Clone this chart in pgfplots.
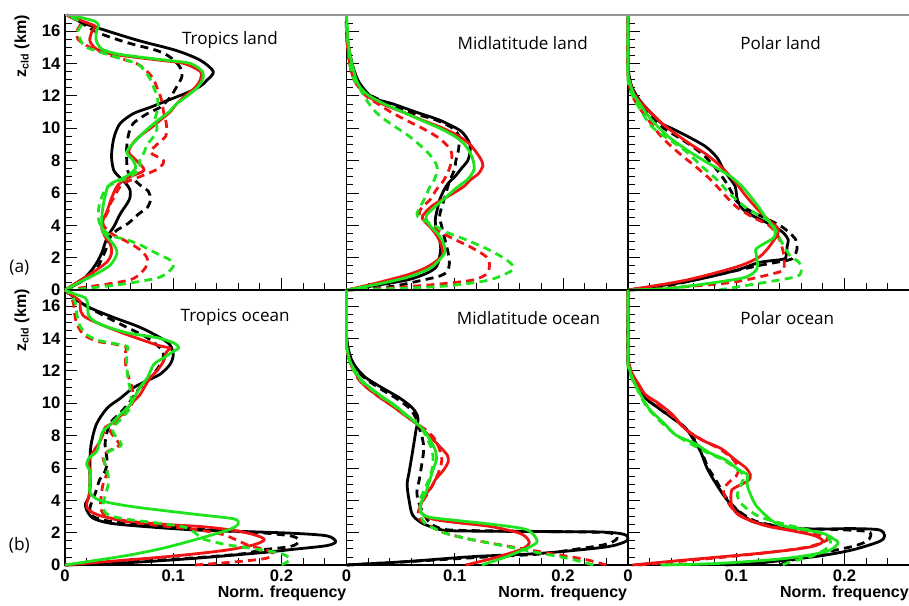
\documentclass[border=0pt]{standalone}
\usepackage{pgfplots}
\pgfplotsset{compat=1.18}
\usepackage{fontspec}
\setmainfont{Open Sans}
\newfontfamily\lsans{Liberation Sans}
\definecolor{cR}{RGB}{240,20,20}
\definecolor{cG}{RGB}{30,228,30}
\definecolor{frameg}{RGB}{150,150,150}
\pgfplotsset{
 panel/.style={scale only axis, width=211.125pt, height=206.25pt,
  xmin=0, xmax=0.26, ymin=0, ymax=17, no markers, clip=false,
  tick pos=left, xtick={0,0.1,0.2}, ytick={0,2,...,16},
  minor xtick={0.02,0.04,0.06,0.08,0.12,0.14,0.16,0.18,0.22,0.24},
  minor ytick={0.5,1,1.5,2.5,3,3.5,4.5,5,5.5,6.5,7,7.5,8.5,9,9.5,10.5,11,11.5,12.5,13,13.5,14.5,15,15.5,16.5},
  major tick length=9pt, minor tick length=5pt,
  every tick/.style={black, line width=0.6pt},
  axis line style={line width=0.8pt},
  /pgf/number format/assume math mode=true,
  tick label style={font=\lsans\bfseries\fontsize{12.5}{13}\selectfont},
  xticklabels={0,0.1,0.2}},
 notx/.style={xticklabels={}},
 noty/.style={yticklabels={}},
 ks/.style={black,line width=2.1pt,smooth,line join=round},
 kd/.style={black,line width=2.1pt,smooth,line join=round,dash pattern=on 6pt off 4pt},
 rs/.style={cR,line width=2.1pt,smooth,line join=round},
 rd/.style={cR,line width=2.1pt,smooth,line join=round,dash pattern=on 6pt off 4pt},
 gs/.style={cG,line width=2.1pt,smooth,line join=round},
 gd/.style={cG,line width=2.1pt,smooth,line join=round,dash pattern=on 6pt off 4pt},
}
\newcommand{\ttl}{\fontsize{12.8}{14}\selectfont}
\begin{document}
\begin{tikzpicture}
\useasboundingbox (0,0) rectangle (681.75pt,454.5pt);
% ---------------- Tropics land
\begin{axis}[panel, notx, at={(48.75pt,237pt)}, anchor=south west]
\addplot[kd] coordinates {(0,0) (0.017,0.6) (0.029,1.3) (0.035,2.1) (0.039,2.7) (0.042,3.3) (0.048,3.7) (0.058,4.1) (0.068,4.7) (0.076,5.1) (0.079,5.6) (0.077,6.1) (0.069,6.5) (0.063,6.9) (0.058,7.35) (0.057,8.0) (0.057,8.85) (0.059,9.7) (0.063,10.3) (0.076,10.9) (0.088,11.3) (0.097,11.9) (0.103,12.55) (0.108,13.2) (0.106,13.8) (0.097,14.4) (0.085,14.8) (0.057,15.3) (0.029,15.95) (0.011,16.7) (0.002,17)};
\addplot[ks] coordinates {(0,0) (0.014,0.5) (0.023,1.1) (0.029,1.65) (0.034,2.3) (0.037,2.9) (0.040,3.4) (0.045,3.9) (0.051,4.7) (0.057,5.3) (0.060,5.7) (0.060,6.2) (0.056,6.6) (0.050,7.0) (0.045,7.4) (0.043,8.2) (0.044,9) (0.046,9.6) (0.051,10.3) (0.063,10.9) (0.079,11.3) (0.094,11.7) (0.113,12.2) (0.125,12.6) (0.131,12.96) (0.137,13.5) (0.125,14.2) (0.103,14.8) (0.069,15.4) (0.042,15.95) (0.017,16.5) (0.002,17)};
\addplot[rd] coordinates {(0,0) (0.011,0.1) (0.042,0.4) (0.063,0.7) (0.074,1.35) (0.076,1.95) (0.069,2.5) (0.057,3.0) (0.045,3.4) (0.039,3.7) (0.035,4.1) (0.037,4.5) (0.040,4.9) (0.042,5.35) (0.046,5.8) (0.049,6.2) (0.054,6.6) (0.069,7.0) (0.086,7.5) (0.091,8.0) (0.079,8.5) (0.085,9) (0.093,9.5) (0.094,10) (0.093,10.5) (0.091,11) (0.090,11.5) (0.088,12) (0.085,12.5) (0.082,13) (0.076,13.5) (0.066,14) (0.042,14.5) (0.023,15) (0.012,15.5) (0.011,16) (0.014,16.5) (0.002,17)};
\addplot[rs] coordinates {(0,0) (0.014,0.6) (0.026,1.1) (0.039,1.75) (0.043,2.3) (0.042,2.8) (0.037,3.3) (0.034,3.8) (0.035,4.3) (0.039,4.9) (0.042,5.5) (0.045,6) (0.049,6.5) (0.060,7) (0.073,7.4) (0.066,8) (0.059,8.5) (0.062,9) (0.069,9.5) (0.079,10) (0.088,10.5) (0.097,11) (0.103,11.5) (0.111,12) (0.120,12.5) (0.125,13) (0.125,13.5) (0.110,14) (0.088,14.2) (0.063,14.4) (0.042,14.6) (0.029,14.9) (0.023,15.4) (0.025,16) (0.028,16.3) (0.017,16.6) (0.002,17)};
\addplot[gd] coordinates {(0,0) (0.020,0.1) (0.057,0.4) (0.088,0.8) (0.100,1.45) (0.097,1.85) (0.085,2.25) (0.069,2.8) (0.057,3.1) (0.045,3.3) (0.039,3.5) (0.032,4.1) (0.031,4.5) (0.031,4.95) (0.032,5.35) (0.034,5.75) (0.037,6.2) (0.042,6.5) (0.060,7) (0.069,7.5) (0.069,8) (0.073,8.5) (0.076,9) (0.082,9.5) (0.085,10) (0.083,10.5) (0.085,11) (0.086,11.5) (0.085,12) (0.082,12.5) (0.079,13) (0.074,13.5) (0.066,14) (0.042,14.5) (0.020,15) (0.014,15.5) (0.012,16) (0.015,16.5) (0.002,17)};
\addplot[gs] coordinates {(0,0) (0.014,0.5) (0.029,1.0) (0.042,1.55) (0.048,2.25) (0.046,2.7) (0.040,3.2) (0.035,3.6) (0.034,4.0) (0.034,4.5) (0.035,5.1) (0.037,5.8) (0.039,6.3) (0.043,6.6) (0.056,7.0) (0.065,7.5) (0.063,8) (0.057,8.5) (0.062,9) (0.069,9.5) (0.077,10) (0.086,10.5) (0.096,11) (0.103,11.5) (0.113,12) (0.122,12.5) (0.127,13) (0.127,13.5) (0.116,14) (0.094,14.2) (0.069,14.4) (0.048,14.6) (0.034,14.9) (0.029,15.4) (0.029,16) (0.031,16.3) (0.028,16.6) (0.011,16.9) (0.002,17)};
\node[anchor=base west, inner sep=0pt, font=\ttl] at (rel axis cs:0.415,0.891) {Tropics land};
\end{axis}
% ---------------- Midlatitude land
\begin{axis}[panel, notx, noty, at={(259.875pt,237pt)}, anchor=south west]
\addplot[kd] coordinates {(0,0) (0.040,0.2) (0.071,0.62) (0.086,0.86) (0.093,1.13) (0.095,1.65) (0.094,2.26) (0.091,3.09) (0.088,3.91) (0.086,4.53) (0.088,5.14) (0.091,5.76) (0.094,6.5) (0.097,7) (0.100,7.5) (0.101,8) (0.103,8.5) (0.104,9) (0.104,9.5) (0.098,10) (0.083,10.5) (0.058,11) (0.040,11.5) (0.023,12) (0.013,12.5) (0.007,13) (0.003,14) (0.001,15) (0,16) (0,17)};
\addplot[ks] coordinates {(0,0) (0.024,0.25) (0.056,0.62) (0.074,1.03) (0.083,1.44) (0.086,2.06) (0.087,2.57) (0.086,3.09) (0.083,3.7) (0.082,4.32) (0.083,4.73) (0.086,5.56) (0.090,6.17) (0.094,6.6) (0.100,7) (0.106,7.5) (0.112,8) (0.114,8.5) (0.114,9) (0.110,9.5) (0.104,9.9) (0.086,10.5) (0.064,11) (0.043,11.5) (0.024,11.9) (0.012,12.8) (0.006,13.8) (0.002,15) (0,16) (0,17)};
\addplot[rd] coordinates {(0,0) (0.019,0.04) (0.055,0.2) (0.086,0.37) (0.117,0.62) (0.130,1.03) (0.132,1.65) (0.129,2.06) (0.117,2.57) (0.098,3.19) (0.083,3.7) (0.075,4.12) (0.070,4.42) (0.067,4.73) (0.070,5.14) (0.077,5.56) (0.083,6.2) (0.090,6.8) (0.095,7.5) (0.097,8) (0.097,8.5) (0.092,9) (0.083,9.5) (0.070,10) (0.055,10.5) (0.041,11) (0.029,11.5) (0.018,12) (0.012,12.5) (0.007,13) (0.003,14) (0.002,15) (0,16) (0,17)};
\addplot[rs] coordinates {(0,0) (0.024,0.37) (0.056,0.93) (0.074,1.4) (0.086,1.95) (0.089,2.26) (0.087,2.88) (0.083,3.4) (0.077,3.91) (0.070,4.42) (0.072,4.73) (0.080,5.25) (0.093,5.76) (0.108,6.38) (0.114,6.79) (0.122,7.2) (0.126,7.7) (0.124,8.1) (0.120,8.5) (0.114,9) (0.104,9.5) (0.089,10) (0.070,10.5) (0.052,11) (0.033,11.5) (0.019,12) (0.012,12.5) (0.007,13) (0.003,14) (0.001,15) (0,16) (0,17)};
\addplot[gd] coordinates {(0,0) (0.020,0.04) (0.071,0.16) (0.101,0.31) (0.132,0.62) (0.151,1.13) (0.154,1.44) (0.148,1.85) (0.132,2.47) (0.111,3.09) (0.095,3.5) (0.083,3.91) (0.071,4.32) (0.066,4.53) (0.065,4.73) (0.068,5.14) (0.073,5.76) (0.077,6.38) (0.081,6.79) (0.084,7.5) (0.081,8) (0.075,8.5) (0.067,9) (0.058,9.5) (0.047,10) (0.036,10.5) (0.027,11) (0.021,11.5) (0.016,12) (0.012,12.5) (0.007,13) (0.003,14) (0.002,15) (0,16) (0,17)};
\addplot[gs] coordinates {(0,0) (0.025,0.31) (0.056,0.78) (0.077,1.34) (0.087,1.95) (0.091,2.37) (0.089,2.98) (0.084,3.5) (0.078,3.91) (0.074,4.32) (0.074,4.63) (0.080,5.04) (0.089,5.56) (0.101,6.28) (0.111,6.79) (0.115,7.1) (0.118,7.5) (0.117,8) (0.114,8.5) (0.109,9) (0.100,9.5) (0.086,10) (0.069,10.5) (0.052,11) (0.035,11.5) (0.021,12) (0.013,12.5) (0.009,13) (0.005,14) (0.002,15) (0.001,16) (0,17)};
\node[anchor=base west, inner sep=0pt, font=\ttl] at (rel axis cs:0.394,0.876) {Midlatitude land};
\end{axis}
% ---------------- Polar land
\begin{axis}[panel, notx, noty, at={(471pt,237pt)}, anchor=south west]
\addplot[kd] coordinates {(0,0) (0.035,0.25) (0.080,0.9) (0.120,1.5) (0.148,1.85) (0.153,2.05) (0.156,2.5) (0.155,3.1) (0.148,3.6) (0.140,4.0) (0.125,4.5) (0.110,5.0) (0.100,5.5) (0.096,6.0) (0.092,6.5) (0.087,7) (0.080,7.6) (0.072,8.2) (0.060,8.85) (0.045,9.5) (0.033,10) (0.025,10.5) (0.016,11.1) (0.008,11.8) (0.003,12.5) (0.001,13.2) (0,14) (0,17)};
\addplot[ks] coordinates {(0,0) (0.053,0.5) (0.099,1.2) (0.121,1.7) (0.143,1.9) (0.146,2.1) (0.147,2.7) (0.148,3.1) (0.144,3.5) (0.136,3.9) (0.127,4.2) (0.115,4.6) (0.106,5.0) (0.101,5.6) (0.099,6.4) (0.093,7) (0.087,7.6) (0.082,8.2) (0.072,8.85) (0.055,9.5) (0.040,10) (0.031,10.3) (0.019,11.1) (0.010,11.8) (0.004,12.5) (0.001,13.2) (0,14) (0,17)};
\addplot[rd] coordinates {(0,0) (0.022,0.05) (0.053,0.2) (0.099,0.5) (0.139,1.1) (0.144,1.35) (0.144,2.1) (0.142,2.7) (0.138,3.4) (0.130,4.0) (0.115,4.5) (0.101,5.1) (0.093,5.6) (0.085,6.2) (0.075,6.9) (0.063,7.6) (0.050,8.3) (0.038,9.0) (0.028,9.7) (0.019,10.5) (0.010,11.3) (0.004,12) (0.001,12.7) (0,13.5) (0,17)};
\addplot[rs] coordinates {(0,0) (0.053,0.6) (0.099,1.4) (0.119,1.95) (0.127,2.4) (0.136,3.2) (0.139,3.7) (0.136,4.0) (0.132,4.2) (0.121,4.9) (0.109,5.8) (0.100,6.6) (0.092,7.2) (0.083,7.8) (0.072,8.4) (0.058,9.0) (0.045,9.6) (0.033,10.2) (0.022,10.9) (0.013,11.5) (0.006,12.1) (0.002,12.8) (0,13.5) (0,17)};
\addplot[gd] coordinates {(0.084,0) (0.120,0.4) (0.155,0.82) (0.160,1.2) (0.158,1.7) (0.150,2.1) (0.145,2.6) (0.140,3.2) (0.133,4.1) (0.124,4.5) (0.109,5.1) (0.093,6.0) (0.084,6.7) (0.069,7.6) (0.053,8.6) (0.038,9.3) (0.022,10.1) (0.010,11.3) (0.003,12.2) (0,13) (0,17)};
\addplot[gs] coordinates {(0,0) (0.038,0.1) (0.084,0.5) (0.109,0.8) (0.119,1.3) (0.119,2.0) (0.118,2.5) (0.124,2.8) (0.134,3.2) (0.136,3.5) (0.134,3.9) (0.127,4.5) (0.121,5.1) (0.113,5.8) (0.104,6.5) (0.095,7) (0.083,7.5) (0.070,8) (0.058,8.5) (0.047,9) (0.037,9.5) (0.029,10) (0.022,10.5) (0.016,11) (0.011,11.5) (0.006,12) (0.003,12.5) (0.001,13) (0,13.5) (0,17)};
\node[anchor=base west, inner sep=0pt, font=\ttl] at (rel axis cs:0.398,0.876) {Polar land};
\end{axis}
% ---------------- Tropics ocean
\begin{axis}[panel, at={(48.75pt,30.75pt)}, anchor=south west]
\addplot[kd] coordinates {(0,0) (0.06,0.2) (0.12,0.45) (0.165,0.7) (0.181,0.93) (0.208,1.14) (0.216,1.45) (0.211,1.76) (0.187,1.96) (0.150,2.1) (0.103,2.31) (0.073,2.48) (0.042,2.69) (0.026,3.0) (0.023,3.5) (0.025,3.93) (0.028,4.44) (0.032,5.27) (0.037,5.8) (0.039,6.4) (0.037,7.44) (0.039,8.26) (0.043,8.88) (0.051,9.4) (0.060,10.1) (0.069,10.95) (0.079,11.57) (0.088,12.4) (0.091,13.0) (0.088,13.4) (0.076,14.05) (0.057,14.7) (0.039,15.3) (0.020,16.0) (0.008,16.5) (0,17)};
\addplot[ks] coordinates {(0,0) (0.057,0.14) (0.119,0.41) (0.181,0.76) (0.211,0.97) (0.242,1.2) (0.250,1.45) (0.242,1.8) (0.211,1.96) (0.165,2.07) (0.119,2.17) (0.073,2.38) (0.042,2.58) (0.026,2.89) (0.020,3.4) (0.019,3.8) (0.022,4.2) (0.023,5) (0.023,6.2) (0.024,7.4) (0.029,8.7) (0.039,9.7) (0.051,10.3) (0.063,10.95) (0.076,11.4) (0.088,11.8) (0.097,12.4) (0.100,13.0) (0.097,13.6) (0.088,14.05) (0.069,14.7) (0.045,15.3) (0.023,15.9) (0.011,16.4) (0,17)};
\addplot[rd] coordinates {(0.12,0) (0.15,0.15) (0.185,0.4) (0.192,0.7) (0.185,0.95) (0.17,1.2) (0.16,1.5) (0.145,1.9) (0.12,2.2) (0.085,2.45) (0.055,2.7) (0.038,3.0) (0.033,3.5) (0.033,4.0) (0.035,4.96) (0.039,5.8) (0.035,6.6) (0.039,7.0) (0.050,7.4) (0.045,7.95) (0.042,8.26) (0.045,8.68) (0.051,9.1) (0.060,9.7) (0.063,10.3) (0.062,10.95) (0.059,11.57) (0.056,12.4) (0.056,13.2) (0.056,13.5) (0.042,13.7) (0.029,13.84) (0.017,14.26) (0.011,14.9) (0.009,15.5) (0.008,16.1) (0.005,16.7) (0,17)};
\addplot[rs] coordinates {(0,0) (0.026,0.14) (0.057,0.31) (0.088,0.48) (0.119,0.68) (0.150,0.93) (0.174,1.24) (0.184,1.55) (0.178,1.8) (0.160,2.1) (0.130,2.35) (0.095,2.5) (0.060,2.7) (0.035,3.0) (0.024,3.3) (0.020,3.6) (0.020,3.8) (0.023,4.55) (0.023,5.8) (0.022,6.2) (0.023,6.6) (0.028,7.2) (0.032,7.6) (0.035,8.06) (0.037,8.5) (0.042,8.7) (0.051,9.2) (0.063,10.1) (0.069,10.5) (0.073,10.95) (0.079,11.6) (0.085,12) (0.091,12.6) (0.094,13.2) (0.097,13.4) (0.085,13.6) (0.057,14.25) (0.032,14.9) (0.017,15.4) (0.014,15.9) (0.014,16.3) (0.008,16.6) (0,17)};
\addplot[gd] coordinates {(0.200,0) (0.208,0.35) (0.200,0.7) (0.180,0.95) (0.150,1.25) (0.128,1.6) (0.120,2.0) (0.110,2.35) (0.085,2.6) (0.055,2.85) (0.040,3.1) (0.035,3.5) (0.036,4.0) (0.038,4.5) (0.040,5.0) (0.040,5.5) (0.038,6.0) (0.036,6.6) (0.040,7.0) (0.052,7.4) (0.047,7.95) (0.044,8.3) (0.047,8.7) (0.053,9.1) (0.060,9.7) (0.061,10.3) (0.060,10.95) (0.058,11.57) (0.057,12.4) (0.057,13.2) (0.058,13.5) (0.045,13.7) (0.030,13.9) (0.019,14.3) (0.013,14.9) (0.011,15.5) (0.010,16.1) (0.006,16.7) (0,17)};
\addplot[gs] coordinates {(0,0) (0.030,0.3) (0.060,0.62) (0.090,1.03) (0.122,1.6) (0.152,2.2) (0.160,2.55) (0.156,2.85) (0.125,3.1) (0.063,3.6) (0.032,4.0) (0.023,4.5) (0.023,4.96) (0.023,5.8) (0.020,6.2) (0.022,6.6) (0.029,7.0) (0.032,7.64) (0.035,8.26) (0.042,8.68) (0.051,9.3) (0.060,9.9) (0.069,10.95) (0.076,11.57) (0.082,12.4) (0.091,12.8) (0.100,13.2) (0.105,13.43) (0.100,13.74) (0.085,14.05) (0.057,14.36) (0.032,14.9) (0.022,15.4) (0.021,16.1) (0.019,16.5) (0.011,16.7) (0,17)};
\node[anchor=base west, inner sep=0pt, font=\ttl] at (rel axis cs:0.41,0.887) {Tropics ocean};
\end{axis}
% ---------------- Midlatitude ocean
\begin{axis}[panel, noty, at={(259.875pt,30.75pt)}, anchor=south west]
\addplot[kd] coordinates {(0,0) (0.055,0.2) (0.117,0.45) (0.179,0.68) (0.209,0.95) (0.234,1.2) (0.245,1.4) (0.250,1.65) (0.247,1.9) (0.235,2.02) (0.17,2.08) (0.10,2.15) (0.085,2.3) (0.077,2.6) (0.072,3.1) (0.067,3.8) (0.065,4.5) (0.067,5.2) (0.069,6.0) (0.071,6.9) (0.071,7.5) (0.069,8.1) (0.066,8.7) (0.064,9.1) (0.058,9.7) (0.046,10.3) (0.030,10.95) (0.016,11.6) (0.008,12.2) (0.003,12.8) (0.001,13.6) (0,14.3) (0,17)};
\addplot[ks] coordinates {(0,0) (0.055,0.21) (0.117,0.52) (0.179,0.72) (0.238,1.1) (0.256,1.4) (0.260,1.65) (0.256,1.9) (0.235,2.04) (0.17,2.07) (0.10,2.11) (0.086,2.2) (0.070,2.58) (0.061,3.1) (0.058,3.93) (0.056,4.96) (0.058,5.8) (0.061,7.0) (0.064,8.26) (0.066,9.09) (0.061,9.7) (0.049,10.33) (0.033,10.95) (0.018,11.57) (0.009,12.2) (0.004,12.8) (0.001,13.6) (0,14.3) (0,17)};
\addplot[rd] coordinates {(0.240,0) (0.220,0.35) (0.185,0.75) (0.150,1.15) (0.117,1.55) (0.095,1.9) (0.086,2.1) (0.075,2.5) (0.068,2.8) (0.066,3.2) (0.068,3.6) (0.071,4.0) (0.077,4.65) (0.082,5.27) (0.086,5.9) (0.088,6.5) (0.086,7.13) (0.082,7.75) (0.076,8.2) (0.066,8.7) (0.053,9.3) (0.041,9.9) (0.030,10.4) (0.020,10.9) (0.012,11.4) (0.007,12) (0.003,12.6) (0.001,13.2) (0,13.8) (0,17)};
\addplot[rs] coordinates {(0.110,0) (0.135,0.41) (0.160,0.93) (0.168,1.25) (0.168,1.55) (0.160,1.96) (0.133,2.38) (0.102,2.62) (0.080,2.83) (0.071,3.1) (0.068,3.4) (0.069,3.8) (0.074,4.44) (0.079,4.86) (0.082,5.27) (0.090,5.9) (0.094,6.4) (0.093,6.8) (0.086,7.33) (0.077,7.95) (0.067,8.6) (0.055,9.2) (0.043,9.8) (0.032,10.3) (0.022,10.8) (0.015,11.2) (0.009,11.8) (0.004,12.4) (0.001,13.2) (0,13.8) (0,17)};
\addplot[gd] coordinates {(0.228,0) (0.205,0.4) (0.172,0.82) (0.140,1.25) (0.110,1.65) (0.092,1.95) (0.083,2.2) (0.074,2.5) (0.070,2.8) (0.069,3.2) (0.068,4.0) (0.072,4.65) (0.076,5.27) (0.079,5.9) (0.080,6.5) (0.079,7.1) (0.075,7.75) (0.070,8.37) (0.064,8.8) (0.054,9.3) (0.043,9.9) (0.032,10.4) (0.022,10.9) (0.013,11.4) (0.007,12) (0.003,12.6) (0.001,13.2) (0,13.8) (0,17)};
\addplot[gs] coordinates {(0.125,0) (0.148,0.52) (0.170,1.14) (0.176,1.5) (0.167,2.17) (0.139,2.48) (0.102,2.75) (0.077,2.95) (0.069,3.2) (0.068,3.5) (0.069,3.9) (0.073,4.44) (0.076,5.06) (0.080,5.9) (0.083,6.5) (0.082,7.1) (0.077,7.75) (0.071,8.37) (0.064,8.8) (0.055,9.3) (0.044,9.9) (0.033,10.4) (0.023,10.9) (0.014,11.4) (0.008,12) (0.003,12.6) (0.001,13.2) (0,13.8) (0,17)};
\node[anchor=base west, inner sep=0pt, font=\ttl] at (rel axis cs:0.391,0.873) {Midlatitude ocean};
\end{axis}
% ---------------- Polar ocean
\begin{axis}[panel, noty, at={(471pt,30.75pt)}, anchor=south west]
\addplot[kd] coordinates {(0.14,0) (0.152,0.31) (0.177,0.72) (0.207,1.14) (0.220,1.45) (0.224,1.76) (0.221,2.07) (0.19,2.2) (0.16,2.25) (0.135,2.45) (0.118,2.7) (0.105,3.2) (0.095,3.8) (0.088,4.44) (0.081,5.27) (0.074,6) (0.071,6.5) (0.068,7.0) (0.063,7.6) (0.053,8.47) (0.041,9.09) (0.028,9.71) (0.016,10.33) (0.007,11.16) (0.002,12) (0,12.6) (0,17)};
\addplot[ks] coordinates {(0.09,0) (0.12,0.12) (0.146,0.31) (0.177,0.56) (0.207,0.93) (0.232,1.45) (0.237,1.8) (0.232,2.17) (0.207,2.25) (0.177,2.22) (0.152,2.27) (0.130,2.48) (0.115,2.69) (0.104,3.2) (0.094,3.82) (0.087,4.44) (0.079,5.27) (0.073,5.99) (0.070,6.5) (0.067,7.02) (0.062,7.6) (0.053,8.47) (0.041,9.09) (0.028,9.71) (0.016,10.33) (0.007,11.16) (0.002,12) (0,12.6) (0,17)};
\addplot[rd] coordinates {(0.01,0) (0.06,0.3) (0.12,0.7) (0.165,1.1) (0.184,1.55) (0.180,1.8) (0.160,2.07) (0.133,2.38) (0.115,2.7) (0.103,3.1) (0.095,3.6) (0.090,4.2) (0.088,4.65) (0.093,5.1) (0.100,5.5) (0.102,6.0) (0.096,6.6) (0.084,7.2) (0.068,7.75) (0.053,8.4) (0.041,9.2) (0.028,9.9) (0.016,10.5) (0.009,11.2) (0.004,11.8) (0.001,12.4) (0,12.8) (0,17)};
\addplot[rs] coordinates {(0.004,0) (0.053,0.31) (0.115,0.68) (0.146,0.9) (0.170,1.14) (0.180,1.45) (0.173,1.8) (0.155,2.07) (0.130,2.38) (0.115,2.69) (0.102,3.1) (0.096,3.62) (0.095,4.24) (0.096,4.65) (0.101,4.86) (0.107,5.06) (0.112,5.27) (0.113,5.58) (0.109,6.0) (0.099,6.5) (0.086,7.2) (0.069,7.7) (0.053,8.4) (0.041,9.3) (0.028,10.0) (0.016,10.54) (0.010,11.16) (0.004,11.8) (0.001,12.4) (0,12.8) (0,17)};
\addplot[gd] coordinates {(0.143,0) (0.150,0.2) (0.170,0.55) (0.183,1.0) (0.187,1.4) (0.185,1.7) (0.177,2.0) (0.146,2.5) (0.121,3.0) (0.106,3.7) (0.101,4.3) (0.104,4.9) (0.107,5.5) (0.101,5.9) (0.088,6.5) (0.073,6.95) (0.059,7.45) (0.045,8.0) (0.036,8.5) (0.028,9.0) (0.017,9.8) (0.009,10.8) (0.003,11.6) (0.001,12.2) (0,12.6) (0,17)};
\addplot[gs] coordinates {(0.03,0) (0.084,0.1) (0.146,0.41) (0.183,0.83) (0.194,1.34) (0.189,1.65) (0.180,1.96) (0.161,2.2) (0.140,2.48) (0.130,2.9) (0.118,3.7) (0.112,4.55) (0.110,5.0) (0.110,5.58) (0.102,5.9) (0.090,6.5) (0.075,6.95) (0.062,7.5) (0.045,8.0) (0.037,8.5) (0.031,8.9) (0.019,9.7) (0.010,10.74) (0.004,11.57) (0.001,12.2) (0,12.6) (0,17)};
\node[anchor=base west, inner sep=0pt, font=\ttl] at (rel axis cs:0.398,0.875) {Polar ocean};
\end{axis}
% ---------------- decorations
\draw[frameg, line width=1.1pt] (48.75pt,443.25pt) -- (681.75pt,443.25pt);
\node[rotate=90, anchor=east, inner sep=0pt, font=\lsans\bfseries\fontsize{12}{13}\selectfont] at (16.5pt,443.25pt) {z\textsubscript{cld} (km)};
\node[rotate=90, anchor=east, inner sep=0pt, font=\lsans\bfseries\fontsize{12}{13}\selectfont] at (16.5pt,237.75pt) {z\textsubscript{cld} (km)};
\node[font=\fontsize{13}{14}\selectfont, inner sep=0pt] at (14.5pt,254pt) {(a)};
\node[font=\fontsize{13}{14}\selectfont, inner sep=0pt] at (14.5pt,45.5pt) {(b)};
\node[anchor=base east, inner sep=0pt, font=\lsans\bfseries\fontsize{12}{13}\selectfont] at (260pt,6pt) {Norm. frequency};
\node[anchor=base east, inner sep=0pt, font=\lsans\bfseries\fontsize{12}{13}\selectfont] at (470.5pt,6pt) {Norm. frequency};
\node[anchor=base east, inner sep=0pt, font=\lsans\bfseries\fontsize{12}{13}\selectfont] at (681.75pt,6pt) {Norm. frequency};
\end{tikzpicture}
\end{document}
